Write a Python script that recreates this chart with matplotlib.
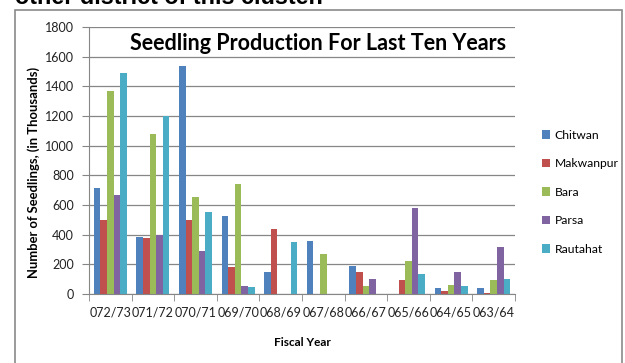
import matplotlib.pyplot as plt
import matplotlib.patches as mpatches
import numpy as np

years = ['072/73', '071/72', '070/71', '069/70', '068/69', '067/68', '066/67', '065/66', '064/65', '063/64']
chitwan = [715, 385, 1540, 525, 150, 357, 190, 0, 41, 41]
makwanpur = [500, 375, 500, 180, 440, 0, 149, 93, 20, 9]
bara = [1370, 1080, 655, 740, 0, 273, 52, 222, 61, 97]
parsa = [665, 400, 290, 55, 0, 0, 100, 581, 149, 314]
rautahat = [1490, 1200, 550, 50, 350, 0, 0, 133, 52, 104]

series = [chitwan, makwanpur, bara, parsa, rautahat]
names = ['Chitwan', 'Makwanpur', 'Bara', 'Parsa', 'Rautahat']
colors = ['#4F81BD', '#C0504D', '#9BBB59', '#8064A2', '#4BACC6']

plt.rcParams['font.family'] = ['Lato', 'DejaVu Sans']

fig = plt.figure(figsize=(6.25, 3.63), dpi=100)
W, H = 625, 363

# outer chart border (page screenshot)
fig.patches.append(mpatches.Rectangle((15 / W, -0.05), 607 / W, 1.05 - 9.5 / H,
                                      transform=fig.transFigure, fill=False,
                                      edgecolor='#8a8a8a', linewidth=1.2))
# cut-off text from the document above the chart
fig.text(15 / W, 1 - 4 / H, 'other district of this cluster.', fontsize=16.8,
         va='baseline', ha='left', family=['Liberation Sans', 'DejaVu Sans'],
         fontweight='bold')

ax = fig.add_axes([89 / W, 1 - 294 / H, 426 / W, 267 / H])
x = np.arange(len(years))
w = 0.155
for i, (vals, name, c) in enumerate(zip(series, names, colors)):
    ax.bar(x + (i - 2) * w, vals, w, color=c, label=name, zorder=2)

ax.set_xlim(-0.5, len(years) - 0.5)
ax.set_ylim(0, 1800)
ax.set_yticks(range(0, 1801, 200))
ax.set_xticks(x)
ax.set_xticklabels(years, fontsize=9)
ax.set_xticks(np.arange(-0.5, len(years)), minor=True)
ax.tick_params(axis='x', which='major', length=0, pad=9, labelcolor='#222222')
ax.tick_params(axis='x', which='minor', length=5, color='#868686')
ax.tick_params(axis='y', length=5, color='#868686', labelsize=9, labelcolor='#222222', pad=6)
ax.grid(axis='y', color='#868686', linewidth=0.9, zorder=0)
for s in ['top', 'right']:
    ax.spines[s].set_visible(False)
ax.spines['left'].set_color('#868686')
ax.spines['bottom'].set_color('#868686')

ax.set_xlabel('Fiscal Year', fontsize=8.5, fontweight='bold')
ax.xaxis.set_label_coords((302 - 89) / 426, -(337 - 294) / 267)
ax.set_ylabel('Number of Seedlings, (in Thousands)', fontsize=9.4, fontweight='bold')
ax.yaxis.set_label_coords((40 - 89) / 426, (294 - 172) / 267)

fig.text(318 / W, 1 - 43 / H, 'Seedling Production For Last Ten Years',
         fontsize=15.5, fontweight='bold', ha='center', va='center')

leg = fig.legend(loc='upper left', bbox_to_anchor=(531 / W, 1 - 119 / H),
                 frameon=False, fontsize=8.7, handlelength=0.7, handleheight=0.7,
                 labelspacing=1.45, handletextpad=0.35)

fig.savefig('out.png', dpi=100)
